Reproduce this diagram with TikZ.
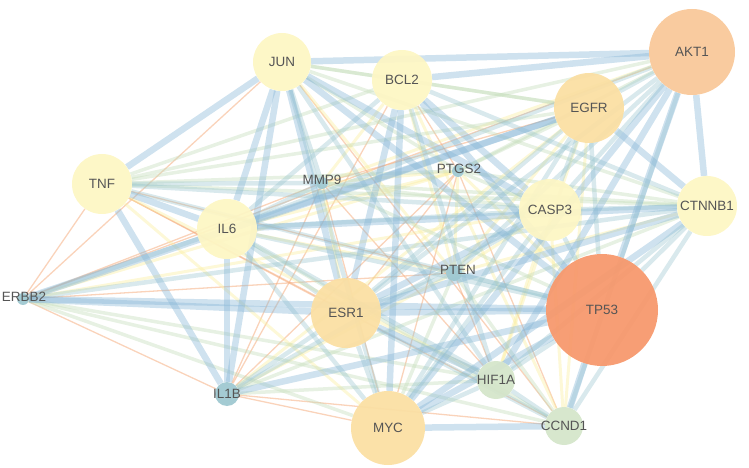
\documentclass[tikz,border=0pt]{standalone}
\usepackage{fontspec}
\setmainfont{Liberation Sans}
\usetikzlibrary{backgrounds}
\definecolor{eblue}{RGB}{135,182,214}
\definecolor{emid}{RGB}{150,195,205}
\definecolor{egreen}{RGB}{195,220,185}
\definecolor{eyel}{RGB}{250,238,160}
\definecolor{eora}{RGB}{245,175,130}
\definecolor{py}{RGB}{253,246,196}
\definecolor{lo}{RGB}{251,223,163}
\definecolor{akt}{RGB}{249,200,153}
\definecolor{tp}{RGB}{247,152,108}
\definecolor{gr}{RGB}{212,229,202}
\definecolor{teal}{RGB}{158,200,208}
\definecolor{labc}{RGB}{85,85,85}
\tikzset{
  gene/.style={circle, inner sep=0, draw=none, fill opacity=.94},
  lab/.style={inner sep=0, text=labc, font=\fontsize{13.5}{15}\selectfont},
  eS/.style={draw=eblue, line width=6.5bp, opacity=.40},
  eM/.style={draw=emid, line width=4.5bp, opacity=.36},
  eG/.style={draw=egreen, line width=3.5bp, opacity=.40},
  eY/.style={draw=eyel, line width=3bp, opacity=.42},
  eO/.style={draw=eora, line width=1.3bp, opacity=.55},
}
\begin{document}
\begin{tikzpicture}[x=1bp,y=-1bp]
\useasboundingbox (0,0) rectangle (749,468);
% nodes
\node[gene, minimum size=58bp, fill=py]  (JUN)    at (282,62)  {};
\node[gene, minimum size=60bp, fill=py]  (BCL2)   at (402,80)  {};
\node[gene, minimum size=86bp, fill=akt] (AKT1)   at (692,52)  {};
\node[gene, minimum size=70bp, fill=lo]  (EGFR)   at (589,108) {};
\node[gene, minimum size=60bp, fill=py]  (TNF)    at (102,184) {};
\node[gene, minimum size=12bp, fill=teal](MMP9)   at (322,183) {};
\node[gene, minimum size=12bp, fill=teal](PTGS2)  at (458,171) {};
\node[gene, minimum size=60bp, fill=py]  (IL6)    at (227,229) {};
\node[gene, minimum size=62bp, fill=py]  (CASP3)  at (550,210) {};
\node[gene, minimum size=60bp, fill=py]  (CTNNB1) at (707,206) {};
\node[gene, minimum size=12bp, fill=teal](ERBB2)  at (23,299)  {};
\node[gene, minimum size=16bp, fill=teal](PTEN)   at (454,273) {};
\node[gene, minimum size=70bp, fill=lo]  (ESR1)   at (346,313) {};
\node[gene, minimum size=112bp, fill=tp] (TP53)   at (602,310) {};
\node[gene, minimum size=38bp, fill=gr]  (HIF1A)  at (496,380) {};
\node[gene, minimum size=24bp, fill=teal](IL1B)   at (227,394) {};
\node[gene, minimum size=74bp, fill=lo]  (MYC)    at (388,428) {};
\node[gene, minimum size=38bp, fill=gr]  (CCND1)  at (564,426) {};
% labels
\node[lab] (JUN-l)    at (JUN)    {JUN};
\node[lab] (BCL2-l)   at (BCL2)   {BCL2};
\node[lab] (AKT1-l)   at (AKT1)   {AKT1};
\node[lab] (EGFR-l)   at (EGFR)   {EGFR};
\node[lab] (TNF-l)    at (TNF)    {TNF};
\node[lab] (MMP9-l)   at (322,180) {MMP9};
\node[lab] (PTGS2-l)  at (459,169) {PTGS2};
\node[lab] (IL6-l)    at (IL6)    {IL6};
\node[lab] (CASP3-l)  at (CASP3)  {CASP3};
\node[lab] (CTNNB1-l) at (CTNNB1) {CTNNB1};
\node[lab] (ERBB2-l)  at (24,297) {ERBB2};
\node[lab] (PTEN-l)   at (458,270) {PTEN};
\node[lab] (ESR1-l)   at (ESR1)   {ESR1};
\node[lab] (TP53-l)   at (TP53)   {TP53};
\node[lab] (HIF1A-l)  at (HIF1A)  {HIF1A};
\node[lab] (IL1B-l)   at (IL1B)   {IL1B};
\node[lab] (MYC-l)    at (MYC)    {MYC};
\node[lab] (CCND1-l)  at (CCND1)  {CCND1};
% edges
\begin{pgfonlayer}{background}
\foreach \a/\b in {ERBB2/TNF, ERBB2/JUN, ERBB2/MMP9, ERBB2/IL1B, ERBB2/PTEN, ERBB2/AKT1,
  TNF/PTEN, TNF/ESR1, MMP9/EGFR, IL1B/MYC, IL1B/CCND1, PTGS2/IL1B, PTGS2/MYC, PTGS2/ESR1,
  PTGS2/CCND1, MMP9/IL1B, MMP9/MYC, MMP9/HIF1A, BCL2/PTGS2, BCL2/IL1B, TNF/CCND1,
  PTEN/HIF1A, JUN/CCND1}
  \draw[eO] (\a) -- (\b);
\foreach \a/\b in {JUN/PTEN, BCL2/PTEN, BCL2/MMP9, TNF/HIF1A, TNF/MYC, ERBB2/CASP3,
  ERBB2/PTGS2, EGFR/PTEN, EGFR/HIF1A, EGFR/CCND1, EGFR/IL1B, IL6/PTGS2, IL6/PTEN,
  MMP9/ESR1, MMP9/PTGS2, PTGS2/PTEN, PTGS2/TP53, IL1B/PTEN, CASP3/CCND1, CASP3/HIF1A,
  CASP3/PTEN, BCL2/CCND1, CTNNB1/PTEN, AKT1/MMP9}
  \draw[eY] (\a) -- (\b);
\foreach \a/\b in {JUN/BCL2, TNF/BCL2, TNF/EGFR, TNF/AKT1, TNF/CTNNB1, TNF/PTGS2,
  JUN/EGFR, JUN/CTNNB1, JUN/PTGS2, BCL2/EGFR, ERBB2/HIF1A, ERBB2/MYC, ERBB2/CCND1,
  IL1B/CTNNB1, IL1B/HIF1A, MMP9/CTNNB1, MMP9/TP53, PTEN/MYC, PTEN/CCND1, MMP9/CASP3,
  IL6/CCND1, PTGS2/CTNNB1, PTGS2/AKT1, EGFR/PTGS2, CASP3/PTGS2}
  \draw[eG] (\a) -- (\b);
\foreach \a/\b in {JUN/MYC, JUN/HIF1A, BCL2/HIF1A, BCL2/CTNNB1, BCL2/IL6, AKT1/CASP3,
  AKT1/ESR1, AKT1/CCND1, AKT1/IL6, AKT1/EGFR, AKT1/PTEN, EGFR/TP53, EGFR/MYC, EGFR/ESR1,
  EGFR/CASP3, CTNNB1/CASP3, CTNNB1/TP53, CTNNB1/CCND1, CTNNB1/HIF1A, CASP3/TP53,
  CASP3/MYC, CASP3/IL6, TP53/HIF1A, TP53/PTEN, TP53/IL6, TP53/TNF, ESR1/MYC, ESR1/CCND1,
  ESR1/IL6, MYC/HIF1A, HIF1A/CCND1, IL1B/ESR1, IL1B/CASP3, TNF/MMP9, TNF/CASP3,
  ERBB2/IL6, ERBB2/CTNNB1, MMP9/IL6, PTEN/ESR1, JUN/MMP9, IL6/MYC, IL6/HIF1A}
  \draw[eM] (\a) -- (\b);
\foreach \a/\b in {JUN/AKT1, BCL2/AKT1, JUN/TNF, JUN/IL6, JUN/IL1B, JUN/ESR1, JUN/TP53,
  JUN/CASP3, TNF/IL6, TNF/IL1B, IL6/IL1B, IL6/EGFR, IL6/CTNNB1, ERBB2/ESR1, ERBB2/TP53,
  ERBB2/EGFR, MYC/CCND1, MYC/TP53, MYC/AKT1, AKT1/CTNNB1, AKT1/TP53, EGFR/CTNNB1,
  ESR1/TP53, BCL2/TP53, BCL2/CASP3, BCL2/ESR1, ESR1/HIF1A, CTNNB1/MYC, CTNNB1/ESR1,
  CASP3/ESR1, HIF1A/AKT1, TP53/CCND1, IL1B/TP53, BCL2/MYC}
  \draw[eS] (\a) -- (\b);
\end{pgfonlayer}
\end{tikzpicture}
\end{document}
